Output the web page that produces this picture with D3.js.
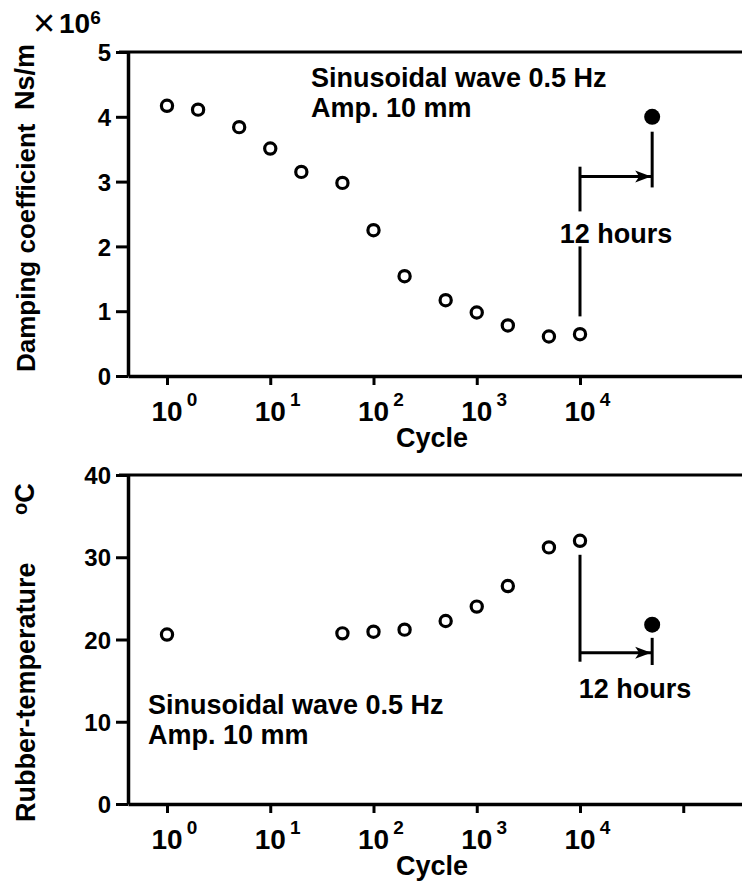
<!DOCTYPE html>
<html>
<head>
<meta charset="utf-8">
<script src="https://cdn.jsdelivr.net/npm/d3@7"></script>
<style>
  html, body { margin: 0; padding: 0; background: #fff; }
  svg { display: block; }
  text { font-family: "Liberation Sans", Arial, Helvetica, sans-serif; font-weight: bold; fill: #000; }
</style>
</head>
<body>
<svg id="chart" width="742" height="893"></svg>
<script>
// ---------- data ----------
const cyclesTop = [1, 2, 5, 10, 20, 50, 100, 200, 500, 1000, 2000, 5000, 10000];
const damping = [4.17, 4.11, 3.84, 3.51, 3.15, 2.98, 2.25, 1.54, 1.17, 0.98, 0.78, 0.61, 0.645];
const dampingRest = [{ cycle: 50000, value: 4.0 }];

const cyclesBottom = [1, 50, 100, 200, 500, 1000, 2000, 5000, 10000];
const temperature = [20.6, 20.75, 20.95, 21.2, 22.25, 24.0, 26.5, 31.2, 32.0];
const temperatureRest = [{ cycle: 50000, value: 21.8 }];

const xTickValues = [1, 10, 100, 1000, 10000];
const xTickExponents = ["0", "1", "2", "3", "4"];
const yTicksTop = [0, 1, 2, 3, 4, 5];
const yTicksBottom = [0, 10, 20, 30, 40];
const annotationText = "Sinusoidal wave 0.5 Hz";
const annotationText2 = "Amp. 10 mm";
const restLabel = "12 hours";

// ---------- layout ----------
const svg = d3.select("#chart");
const xLeft = 128, xRight = 742;
// 10^0 at 167, 10^4 at 580
const decade = (580 - 167) / 4;
const x = d3.scaleLog()
  .domain([Math.pow(10, (xLeft - 167) / decade), Math.pow(10, (xRight - 167) / decade)])
  .range([xLeft, xRight]);

function panel(cfg) {
  const g = svg.append("g");
  const y = d3.scaleLinear().domain(cfg.yDomain).range([cfg.y0, cfg.yTop]);

  // top frame line
  g.append("line").attr("x1", xLeft - 9).attr("x2", xRight)
    .attr("y1", cfg.yTop).attr("y2", cfg.yTop)
    .attr("stroke", "#000").attr("stroke-width", 3);

  // x axis
  const xa = g.append("g").attr("transform", `translate(0,${cfg.y0})`)
    .call(d3.axisBottom(x).tickValues(cfg.xTicks).tickSize(9).tickSizeOuter(0).tickFormat(""));
  xa.select(".domain").attr("stroke-width", 3.5);
  xa.selectAll(".tick line").attr("stroke-width", 3);
  xa.selectAll(".tick").each(function (d, i) {
    if (i >= xTickExponents.length) return;
    const t = d3.select(this).append("text")
      .attr("y", 45).attr("text-anchor", "start").attr("x", -16)
      .style("font-size", "28px");
    t.append("tspan").text("10");
    t.append("tspan").attr("dx", 4).attr("dy", -15).style("font-size", "19px").text(xTickExponents[i]);
  });

  // y axis
  const ya = g.append("g").attr("transform", `translate(${xLeft},0)`)
    .call(d3.axisLeft(y).tickValues(cfg.yTicks).tickSize(12).tickPadding(5).tickSizeOuter(0)
      .tickFormat(d3.format("d")));
  ya.select(".domain").attr("stroke-width", 3.5);
  ya.selectAll(".tick line").attr("stroke-width", 3);
  ya.selectAll(".tick text").style("font-size", "24px").attr("dy", "0.36em")
    .style("font-family", '"Liberation Sans", Arial, sans-serif').style("font-weight", "bold");

  // data points
  g.selectAll("circle.open").data(cfg.xs.map((c, i) => ({ cycle: c, value: cfg.ys[i] })))
    .enter().append("circle").attr("class", "open")
    .attr("cx", d => x(d.cycle)).attr("cy", d => y(d.value))
    .attr("r", 5.6)
    .attr("fill", "none").attr("stroke", "#000").attr("stroke-width", 3.2);
  g.selectAll("circle.fill").data(cfg.rest).enter().append("circle").attr("class", "fill")
    .attr("cx", d => x(d.cycle)).attr("cy", d => y(d.value)).attr("r", 8).attr("fill", "#000");

  // rest (12 hours) annotation
  const a = cfg.arrow;
  const ln = (c1, v1, c2, v2, w) => g.append("line")
    .attr("x1", x(c1)).attr("y1", y(v1)).attr("x2", x(c2)).attr("y2", y(v2))
    .attr("stroke", "#000").attr("stroke-width", w || 3);
  a.vsegs.forEach(s => ln(a.from, s[0], a.from, s[1]));
  ln(a.to, a.tick[0], a.to, a.tick[1]);
  ln(a.from, a.level, a.to, a.level, 3);
  const ax = x(a.to), ay = y(a.level);
  g.append("path").attr("d", `M${ax - 1},${ay} L${ax - 17},${ay - 6} L${ax - 13},${ay} L${ax - 17},${ay + 6} Z`).attr("fill", "#000");
  g.append("text").attr("x", a.textX).attr("y", y(a.textV)).attr("text-anchor", "middle")
    .style("font-size", "27px")
    .text(restLabel);

  // condition annotation (two lines)
  g.append("text").attr("x", cfg.noteX).attr("y", cfg.noteY)
    .style("font-size", "27px").text(annotationText);
  g.append("text").attr("x", cfg.noteX).attr("y", cfg.noteY + 30)
    .style("font-size", "27px").text(annotationText2);

  // x label
  g.append("text").attr("x", 432).attr("y", cfg.y0 + 71).attr("text-anchor", "middle")
    .style("font-size", "27px").text("Cycle");
  return y;
}

panel({
  yDomain: [0, 5], y0: 376, yTop: 52, yTicks: yTicksTop, xTicks: xTickValues,
  xs: cyclesTop, ys: damping, rest: dampingRest,
  arrow: { from: 10000, to: 50000, vsegs: [[3.23, 2.54], [2.0, 0.92]], tick: [3.77, 2.91], level: 3.08, textX: 616, textV: 2.06 },
  noteX: 311, noteY: 87
});

panel({
  yDomain: [0, 40], y0: 804, yTop: 475, yTicks: yTicksBottom, xTicks: xTickValues.concat([100000]),
  xs: cyclesBottom, ys: temperature, rest: temperatureRest,
  arrow: { from: 10000, to: 50000, vsegs: [[30.3, 17.3]], tick: [20.2, 16.9], level: 18.4, textX: 635, textV: 12.9 },
  noteX: 148, noteY: 714
});

// y axis titles
svg.append("text").attr("transform", "translate(35,372) rotate(-90)")
  .style("font-size", "26px").text("Damping coefficient");
svg.append("text").attr("transform", "translate(34,110) rotate(-90)")
  .style("font-size", "27px").text("Ns/m");
svg.append("text").attr("x", 33).attr("y", 36).style("font-size", "38px").style("font-weight", "normal").text("×");
const mult = svg.append("text").attr("x", 59).attr("y", 33).style("font-size", "28px");
mult.append("tspan").text("10");
mult.append("tspan").attr("dy", -9).style("font-size", "19px").text("6");

svg.append("text").attr("transform", "translate(35,822) rotate(-90)")
  .style("font-size", "27px").text("Rubber-temperature");
const degC = svg.append("text").attr("transform", "translate(34,515) rotate(-90)").style("font-size", "27px");
degC.append("tspan").style("font-size", "20px").attr("dy", -7).text("o");
degC.append("tspan").attr("dy", 7).text("C");
</script>
</body>
</html>
